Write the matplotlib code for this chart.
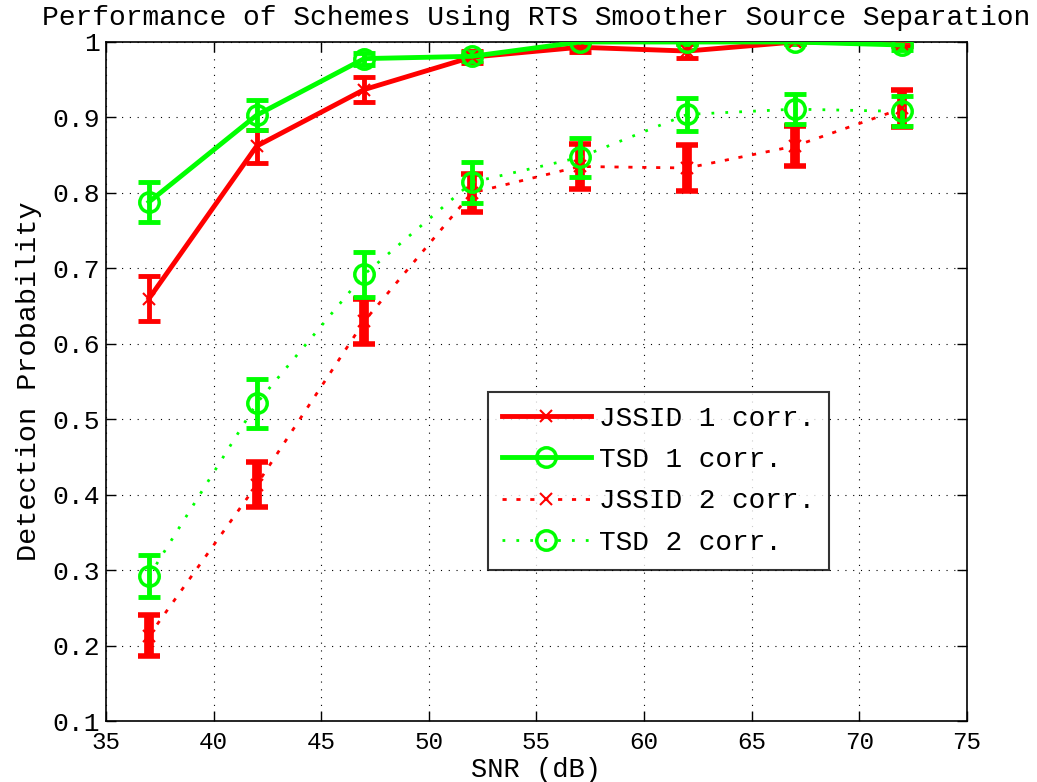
import numpy as np
import matplotlib
matplotlib.use("Agg")
import matplotlib.pyplot as plt

plt.rcParams['font.family'] = ['Liberation Mono', 'DejaVu Sans Mono']

snr = [37, 42, 47, 52, 57, 62, 67, 72]

jssid1 = [0.660, 0.862, 0.937, 0.980, 0.993, 0.988, 1.000, 0.998]
jssid1_err = [0.030, 0.022, 0.017, 0.008, 0.006, 0.009, 0.003, 0.003]
tsd1 = [0.788, 0.903, 0.978, 0.981, 1.000, 1.000, 1.000, 0.996]
tsd1_err = [0.026, 0.020, 0.008, 0.006, 0.003, 0.003, 0.003, 0.006]
jssid2 = [0.213, 0.413, 0.630, 0.800, 0.835, 0.833, 0.862, 0.912]
jssid2_err = [0.027, 0.030, 0.030, 0.025, 0.030, 0.030, 0.027, 0.025]
tsd2 = [0.292, 0.521, 0.692, 0.814, 0.847, 0.904, 0.911, 0.908]
tsd2_err = [0.028, 0.032, 0.030, 0.027, 0.026, 0.022, 0.020, 0.020]

labels = ['JSSID 1 corr.', 'TSD 1 corr.', 'JSSID 2 corr.', 'TSD 2 corr.']
title = 'Performance of Schemes Using RTS Smoother Source Separation'

red = '#ff0000'
green = '#00ff00'

fig = plt.figure(figsize=(10.37, 7.82), dpi=100)
ax = fig.add_axes([0.1022, 0.078, 0.8303, 0.8683])

# error bars first, lines on top
ax.errorbar(snr, jssid2, yerr=jssid2_err, fmt='none', ecolor=red,
            elinewidth=7, capsize=8, capthick=4, zorder=2)
ax.errorbar(snr, jssid1, yerr=jssid1_err, fmt='none', ecolor=red,
            elinewidth=3.5, capsize=8, capthick=3.5, zorder=2)
ax.errorbar(snr, tsd2, yerr=tsd2_err, fmt='none', ecolor=green,
            elinewidth=3.5, capsize=8, capthick=3.5, zorder=3)
ax.errorbar(snr, tsd1, yerr=tsd1_err, fmt='none', ecolor=green,
            elinewidth=3.5, capsize=8, capthick=3.5, zorder=3)

h1, = ax.plot(snr, jssid1, '-', color=red, lw=3.5, marker='x', ms=9, mew=1.5, zorder=4)
h2, = ax.plot(snr, tsd1, '-', color=green, lw=3.5, marker='o', ms=14, mew=2.5,
              mfc='none', zorder=5)
h3, = ax.plot(snr, jssid2, color=red, lw=2, ls=(0, (1.5, 3.5)), marker='x',
              ms=9, mew=1.5, zorder=4)
h4, = ax.plot(snr, tsd2, color=green, lw=2, ls=(0, (1, 4)), marker='o',
              ms=14, mew=2.5, mfc='none', zorder=5)

ax.set_xlim(35, 75)
ax.set_ylim(0.1, 1.0)
ax.set_xticks(np.arange(35, 76, 5))
ax.set_yticks(np.arange(0.1, 1.01, 0.1))
ax.set_yticklabels(['0.1', '0.2', '0.3', '0.4', '0.5', '0.6', '0.7', '0.8', '0.9', '1'])
ax.tick_params(direction='in', length=7, width=1, top=True, right=True)
ax.tick_params(axis='y', labelsize=19, pad=4)
ax.tick_params(axis='x', labelsize=17.5, pad=7)
ax.grid(True, color='black', ls=(0, (1, 6)), lw=0.8)
for s in ax.spines.values():
    s.set_linewidth(1.2)

ax.set_xlabel('SNR (dB)', fontsize=19.5, labelpad=2)
ax.set_ylabel('Detection Probability', fontsize=20.5, labelpad=8)
fig.text(0.517, 0.977, title, fontsize=20.2, ha='center', va='center')

leg = ax.legend([h1, h2, h3, h4], labels, loc='upper left',
                bbox_to_anchor=(0.4437, 0.4845), fontsize=20, frameon=True,
                fancybox=False, edgecolor='black', handlelength=3.2,
                borderpad=0.5, labelspacing=0.55, handletextpad=0.3,
                borderaxespad=0)
leg.get_frame().set_linewidth(1.5)

fig.savefig('out.png', dpi=100, facecolor='white')
